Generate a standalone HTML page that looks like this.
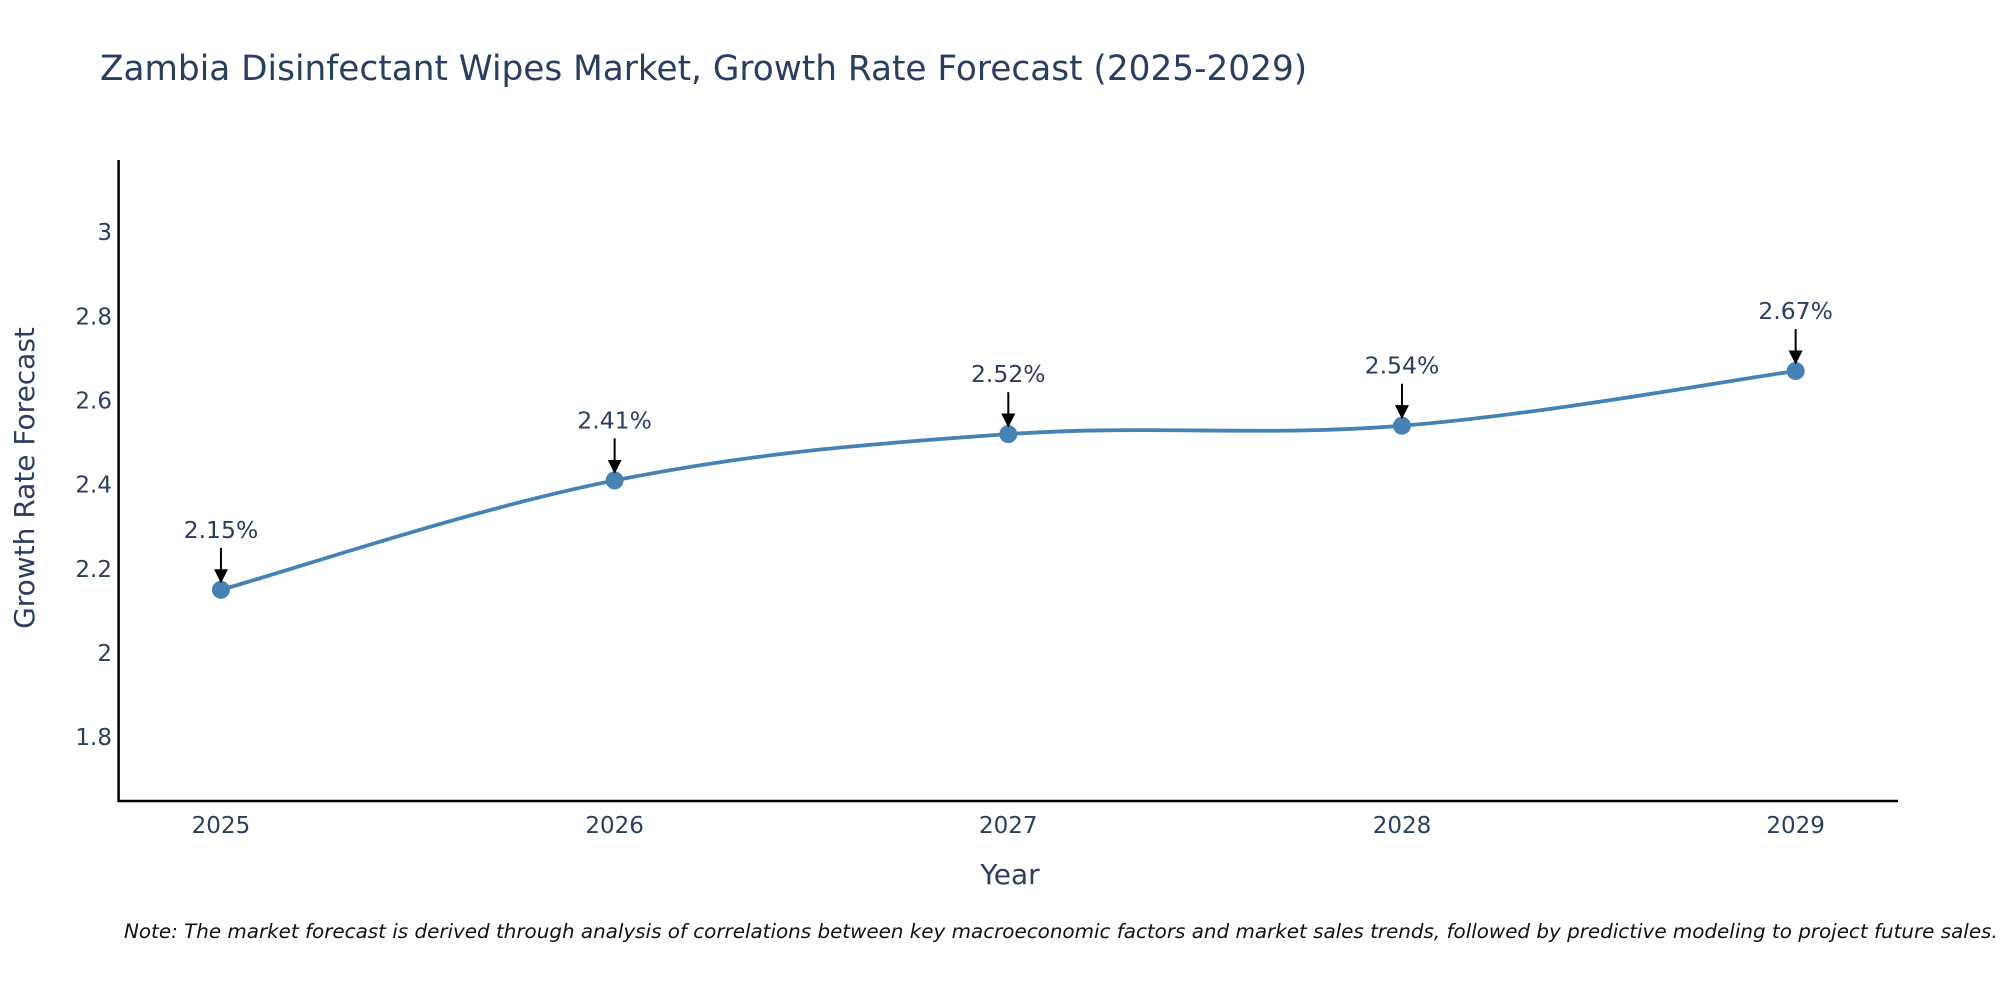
<!DOCTYPE html>
<html><head><meta charset="utf-8"><style>
body{margin:0;background:#fff;}
svg{display:block;font-family:"DejaVu Sans","Liberation Sans",sans-serif;}
</style></head><body>
<svg id="chart" width="2000" height="1000" viewBox="0 0 2000 1000">
<rect width="2000" height="1000" fill="#fff"/>
<text x="100" y="80" font-size="34.3" fill="#2a3f5f">Zambia Disinfectant Wipes Market, Growth Rate Forecast (2025-2029)</text>
<g id="grid"></g>
<g id="series"></g>
<g id="annots"></g>
<line x1="118.6" y1="160" x2="118.6" y2="802" stroke="#000" stroke-width="2.5"/>
<line x1="117.4" y1="801" x2="1898" y2="801" stroke="#000" stroke-width="2.5"/>
<g id="yticks"></g><g id="xticks"></g>
<text transform="translate(34,478) rotate(-90)" text-anchor="middle" font-size="28" fill="#2a3f5f">Growth Rate Forecast</text>
<text x="1010" y="884" text-anchor="middle" font-size="28" fill="#2a3f5f">Year</text>
<text x="124" y="938" font-size="19.9" font-style="italic" fill="#111">Note: The market forecast is derived through analysis of correlations between key macroeconomic factors and market sales trends, followed by predictive modeling to project future sales.</text>
<defs><marker id="ah" viewBox="0 0 10 10" refX="9" refY="5" markerWidth="7" markerHeight="7" orient="auto"><path d="M0,0L10,5L0,10z" fill="#000"/></marker></defs>
</svg>
<script>
const years=[2025,2026,2027,2028,2029];
const values=[2.15,2.41,2.52,2.54,2.67];
const labels=["2.15%","2.41%","2.52%","2.54%","2.67%"];
const yTicks=[1.8,2,2.2,2.4,2.6,2.8,3];
const yTickLabels=["1.8","2","2.2","2.4","2.6","2.8","3"];
const NS="http://www.w3.org/2000/svg";
const X0=118.6,X1=1898,Y0=801,Y1=160.7;
const xMin=2024.74,xMax=2029.26,yMin=1.648,yMax=3.17;
function xs(v){return X0+(v-xMin)/(xMax-xMin)*(X1-X0);}
function ys(v){return Y0-(v-yMin)/(yMax-yMin)*(Y0-Y1);}
function mk(tag,attrs,parent){const e=document.createElementNS(NS,tag);for(const k in attrs)e.setAttribute(k,attrs[k]);document.getElementById(parent).appendChild(e);return e;}
yTicks.forEach((t,i)=>{const e=mk('text',{x:112,y:ys(t)+8,'text-anchor':'end','font-size':23,fill:'#2a3f5f'},'yticks');e.textContent=yTickLabels[i];

});
years.forEach(y=>{const e=mk('text',{x:xs(y),y:833,'text-anchor':'middle','font-size':23,fill:'#2a3f5f'},'xticks');e.textContent=String(y);

});
const pts=years.map((y,i)=>[xs(y),ys(values[i])]);
let d='M'+pts[0][0]+','+pts[0][1];
const s=0.18;
for(let i=0;i<pts.length-1;i++){const p0=pts[Math.max(0,i-1)],p1=pts[i],p2=pts[i+1],p3=pts[Math.min(pts.length-1,i+2)];
const c1=[p1[0]+(p2[0]-p0[0])*s,p1[1]+(p2[1]-p0[1])*s],c2=[p2[0]-(p3[0]-p1[0])*s,p2[1]-(p3[1]-p1[1])*s];
d+=' C'+c1[0]+','+c1[1]+' '+c2[0]+','+c2[1]+' '+p2[0]+','+p2[1];}
const line=mk('path',{d:d,fill:'none',stroke:'#4682b4','stroke-width':3.8},'series');


pts.forEach((p,i)=>{const c=mk('circle',{cx:p[0],cy:p[1],r:9,fill:'#4682b4'},'series');


const a=mk('line',{x1:p[0],y1:p[1]-42,x2:p[0],y2:p[1]-8,stroke:'#000','stroke-width':2,'marker-end':'url(#ah)'},'annots');


const t=mk('text',{x:p[0],y:p[1]-52,'text-anchor':'middle','font-size':23.5,fill:'#2a3f5f'},'annots');t.textContent=labels[i];

});
</script>
</body></html>
